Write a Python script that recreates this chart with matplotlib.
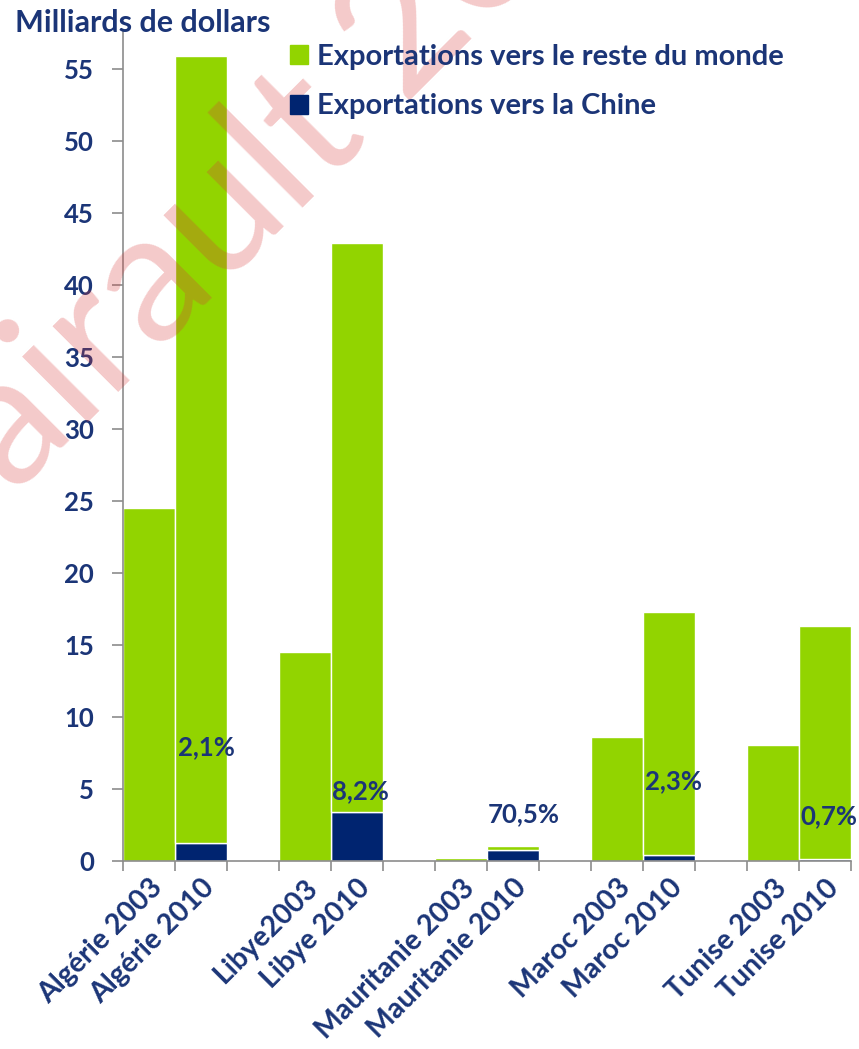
import matplotlib
matplotlib.use("Agg")
import matplotlib.pyplot as plt
from matplotlib.patches import Patch

plt.rcParams['font.family'] = ['Lato', 'DejaVu Sans']

# data (milliards de dollars)
labels = ['Algérie 2003', 'Algérie 2010', 'Libye2003', 'Libye 2010',
          'Mauritanie 2003', 'Mauritanie 2010', 'Maroc 2003', 'Maroc 2010',
          'Tunise 2003', 'Tunise 2010']
slots = [0, 1, 3, 4, 6, 7, 9, 10, 12, 13]
chine = [0.0, 1.2, 0.0, 3.4, 0.0, 0.74, 0.0, 0.4, 0.0, 0.11]
reste = [24.5, 54.7, 14.5, 39.5, 0.2, 0.31, 8.6, 16.9, 8.0, 16.2]
parts = ['2,1%', '8,2%', '70,5%', '2,3%', '0,7%']
part_slots = [1, 4, 7, 10, 13]

# label placement (not data)
part_y = [7.87, 4.85, 3.25, 5.54, 3.1]
part_dx = [0.1, 0.07, 0.2, 0.08, 0.08]

vert = '#92d400'
marine = '#002470'
texte = '#1b3577'

fig = plt.figure(figsize=(8.59, 10.49), dpi=100)
ax = fig.add_axes([0.1432, 0.1795, 0.8475, 0.7909])

ax.bar(slots, chine, width=1.0, color=marine, edgecolor='white', linewidth=1.0,
       label='Exportations vers la Chine')
ax.bar(slots, reste, width=1.0, bottom=chine, color=vert, edgecolor='white',
       linewidth=1.0, label='Exportations vers le reste du monde')

for s, p, y, dx in zip(part_slots, parts, part_y, part_dx):
    ax.text(s + dx, y, p, ha='center', va='center', fontsize=18.5,
            fontweight='bold', color=texte)

ax.set_xlim(-0.5, 13.5)
ax.set_ylim(0, 57.6)
ax.set_yticks(range(0, 56, 5))
ax.set_xticks(slots)
ax.set_xticklabels(labels, rotation=45, ha='right', rotation_mode='anchor',
                   fontsize=20.5, fontweight='bold', color=texte)
ax.set_xticks([i - 0.5 for i in range(15)], minor=True)
ax.tick_params(axis='x', which='major', length=0, pad=10)
ax.tick_params(axis='x', which='minor', length=7, color='#8c8c8c', width=1.2)
ax.tick_params(axis='y', length=8, color='#8c8c8c', width=1.2, pad=13,
               labelsize=18.5, labelcolor=texte)
for t in ax.get_yticklabels():
    t.set_fontweight('bold')

for side in ['top', 'right']:
    ax.spines[side].set_visible(False)
for side in ['left', 'bottom']:
    ax.spines[side].set_color('#8c8c8c')
    ax.spines[side].set_linewidth(1.2)

fig.text(0.0175, 0.978, 'Milliards de dollars', fontsize=22, fontweight='bold',
         color=texte, ha='left', va='center')

handles = [Patch(color=vert), Patch(color=marine)]
leg = fig.legend(handles, ['Exportations vers le reste du monde',
                           'Exportations vers la Chine'],
                 loc='upper left', bbox_to_anchor=(0.3375, 0.9585), frameon=False,
                 borderpad=0, borderaxespad=0,
                 handlelength=0.62, handleheight=0.62, handletextpad=0.3,
                 labelspacing=0.82, prop={'size': 21, 'weight': 'bold'})
for t in leg.get_texts():
    t.set_color(texte)

# filigrane
fig.text(0.0163, 0.527, 'airault 20', rotation=45, rotation_mode='anchor',
         ha='left', va='baseline', fontsize=132, color='#d93a3a', alpha=0.27,
         family='Lato')

fig.savefig('out.png', dpi=100)
